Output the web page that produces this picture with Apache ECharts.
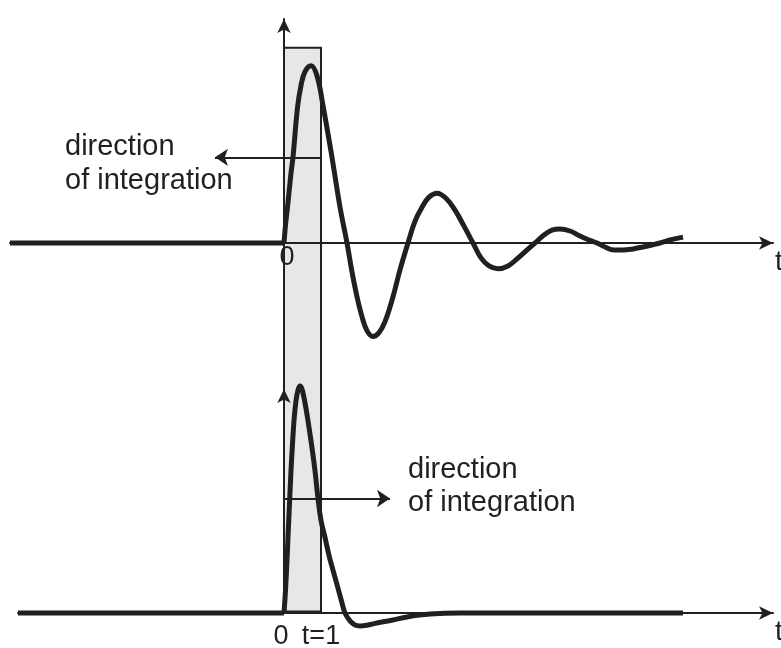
<!DOCTYPE html>
<html><head><meta charset="utf-8">
<script src="https://cdn.jsdelivr.net/npm/echarts@6/dist/echarts.min.js"></script>
<style>html,body{margin:0;padding:0;background:#fff}#c{width:781px;height:648px}</style>
</head><body><div id="c"></div>
<script>
// ---- data (t in units of the integration window, amplitude arbitrary) ----
const topT = [0, 0.041, 0.095, 0.189, 0.243, 0.365, 0.459, 0.568, 0.730, 0.892, 1.054, 1.297, 1.514, 1.703,
  1.838, 1.973, 2.108, 2.243, 2.405, 2.568, 2.730, 2.946, 3.135, 3.351,
  3.541, 3.730, 3.919, 4.135, 4.378, 4.622, 4.865, 5.108,
  5.324, 5.541, 5.784, 6.054, 6.297, 6.541, 6.784,
  7.027, 7.243, 7.459, 7.730, 8.000, 8.243, 8.459,
  8.676, 8.919, 9.162, 9.432, 9.703, 9.946, 10.162, 10.432, 10.784];
const topA = [0, 0.100, 0.200, 0.389, 0.478, 0.756, 0.878, 0.956, 0.989, 0.933, 0.767, 0.478, 0.200, 0,
  -0.161, -0.300, -0.411, -0.489, -0.522, -0.500, -0.439, -0.300, -0.150, 0,
  0.122, 0.200, 0.256, 0.278, 0.250, 0.183, 0.094, 0,
  -0.083, -0.128, -0.144, -0.128, -0.089, -0.044, 0,
  0.044, 0.072, 0.078, 0.067, 0.039, 0.017, 0,
  -0.022, -0.039, -0.039, -0.033, -0.022, -0.011, 0, 0.017, 0.033];
const botT = [0, 0.041, 0.081, 0.108, 0.149, 0.189, 0.230, 0.270, 0.324, 0.378, 0.432, 0.486, 0.568, 0.649,
  0.757, 0.838, 0.919, 1.000, 1.108, 1.216, 1.324, 1.459, 1.568, 1.649,
  1.784, 1.919, 2.054, 2.270, 2.514, 2.946, 3.324, 3.946, 4.757, 10.784];
const botA = [0, 0.128, 0.294, 0.422, 0.611, 0.794, 0.944, 1.072, 1.183, 1.244, 1.267, 1.250, 1.172, 1.072,
  0.922, 0.794, 0.639, 0.517, 0.422, 0.322, 0.239, 0.139, 0.056, 0,
  -0.044, -0.067, -0.072, -0.067, -0.056, -0.039, -0.022, -0.006, 0, 0];
const topFlatT = [-7.405, 0];
const botFlatT = [-7.189, 0];
const flatA = [0, 0];
const rectT = [0, 1];
const rectA = [1.089, -2.056];
const topArrowT = [1, -1.865];
const topArrowA = 0.478;
const botArrowT = [0, 2.865];
const botArrowA = 0.639;
const topTickValues = [0];
const topTickLabels = ['0'];
const botTickValues = [0, 1];
const botTickLabels = ['0', 't=1'];
const axisName = 't';
const noteText = 'direction\nof integration';

// ---- styles ----
const INK = '#231f20';
const FONT = '"Liberation Sans", Arial, Helvetica, sans-serif';
const pair = (xs, ys) => xs.map((x, i) => [x, ys[i]]);

function xAxisCfg(grid, min, values, labels, pads) {
  return {
    type: 'value', gridIndex: grid, min: min, max: 13.216, z: 3,
    axisLine: { show: true, onZero: true, symbol: ['none', 'arrow'], symbolSize: [10, 14], lineStyle: { color: INK, width: 2 } },
    axisTick: { show: false }, splitLine: { show: false },
    axisLabel: {
      show: true, customValues: values, margin: grid === 0 ? 1 : 10,
      formatter: v => { const i = values.indexOf(v); return i < 0 ? '' : '{p' + i + '|' + labels[i] + '}'; },
      rich: Object.fromEntries(pads.map((p, i) => ['p' + i, { fontSize: 27, fontFamily: FONT, color: INK, padding: p }])),
      fontSize: 27, fontFamily: FONT, color: INK
    },
    name: axisName, nameLocation: 'end', nameGap: 2,
    nameTextStyle: { fontSize: 28, fontFamily: FONT, color: INK, align: 'left', verticalAlign: 'top', padding: [5, 0, 0, 0] }
  };
}
function yAxisCfg(grid) {
  return {
    type: 'value', gridIndex: grid, min: 0, max: 1.25, z: 3,
    axisLine: { show: true, onZero: true, symbol: ['none', 'arrow'], symbolSize: [10, 14], lineStyle: { color: INK, width: 2 } },
    axisTick: { show: false }, splitLine: { show: false }, axisLabel: { show: false }
  };
}
function arrowLine(ts, a) {
  return {
    silent: true, symbol: ['none', 'arrow'], symbolSize: 13, animation: false,
    label: { show: false },
    lineStyle: { color: INK, width: 2, type: 'solid' },
    data: [[{ coord: [ts[0], a] }, { coord: [ts[1], a] }]]
  };
}
const curveStyle = { color: INK, width: 5, join: 'round' };

const chart = echarts.init(document.getElementById('c'), null, { renderer: 'canvas' });
chart.setOption({
  animation: false,
  backgroundColor: '#ffffff',
  title: [
    { text: noteText, left: 65, top: 130, padding: 0, textStyle: { fontSize: 29, fontWeight: 'normal', lineHeight: 34, color: INK, fontFamily: FONT } },
    { text: noteText, left: 408, top: 453, padding: 0, textStyle: { fontSize: 29, fontWeight: 'normal', lineHeight: 33, color: INK, fontFamily: FONT } }
  ],
  grid: [
    { left: 10, right: 8, top: 19, height: 224, containLabel: false, outerBoundsMode: 'none' },
    { left: 18, right: 8, top: 389, height: 224, containLabel: false, outerBoundsMode: 'none' }
  ],
  xAxis: [
    xAxisCfg(0, topFlatT[0], topTickValues, topTickLabels, [[0, 0, 0, 6]]),
    xAxisCfg(1, botFlatT[0], botTickValues, botTickLabels, [[0, 6, 0, 0], [0, 0, 0, 0]])
  ],
  yAxis: [yAxisCfg(0), yAxisCfg(1)],
  series: [
    {
      type: 'custom', xAxisIndex: 0, yAxisIndex: 0, z: 1, silent: true, clip: false,
      data: [[rectT[0], rectA[0], rectT[1], rectA[1]]],
      encode: { x: [0, 2], y: [1, 3] },
      renderItem: (params, api) => {
        const p0 = api.coord([api.value(0), api.value(1)]);
        const p1 = api.coord([api.value(2), api.value(3)]);
        return { type: 'rect', shape: { x: p0[0], y: p0[1], width: p1[0] - p0[0], height: p1[1] - p0[1] },
          style: { fill: '#e6e7e8', stroke: INK, lineWidth: 2 } };
      }
    },
    { type: 'line', xAxisIndex: 0, yAxisIndex: 0, z: 5, data: pair(topFlatT, flatA), showSymbol: false, lineStyle: curveStyle, clip: false },
    { type: 'line', xAxisIndex: 0, yAxisIndex: 0, z: 5, data: pair(topT, topA), smooth: 0.4, showSymbol: false, lineStyle: curveStyle, clip: false,
      markLine: arrowLine(topArrowT, topArrowA) },
    { type: 'line', xAxisIndex: 1, yAxisIndex: 1, z: 5, data: pair(botFlatT, flatA), showSymbol: false, lineStyle: curveStyle, clip: false },
    { type: 'line', xAxisIndex: 1, yAxisIndex: 1, z: 5, data: pair(botT, botA), smooth: 0.4, showSymbol: false, lineStyle: curveStyle, clip: false,
      markLine: arrowLine(botArrowT, botArrowA) }
  ]
});
</script></body></html>
